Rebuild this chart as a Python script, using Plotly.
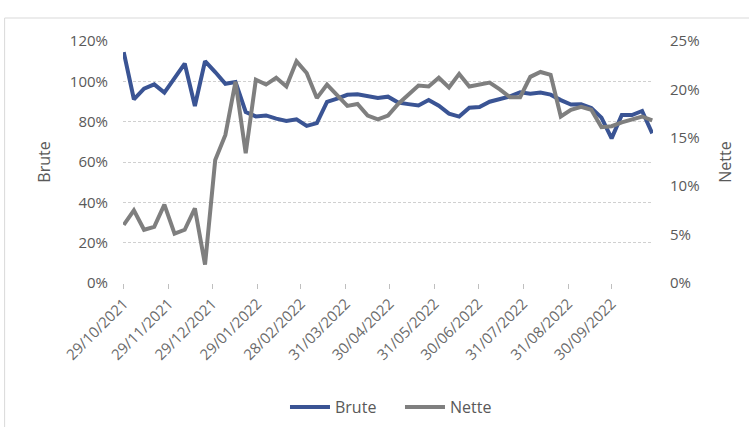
import plotly.graph_objects as go

# Weekly observation dates (Fridays)
dates = [
    "2021-10-29", "2021-11-05", "2021-11-12", "2021-11-19", "2021-11-26",
    "2021-12-03", "2021-12-10", "2021-12-17", "2021-12-24", "2021-12-31",
    "2022-01-07", "2022-01-14", "2022-01-21", "2022-01-28",
    "2022-02-04", "2022-02-11", "2022-02-18", "2022-02-25",
    "2022-03-04", "2022-03-11", "2022-03-18", "2022-03-25",
    "2022-04-01", "2022-04-08", "2022-04-15", "2022-04-22", "2022-04-29",
    "2022-05-06", "2022-05-13", "2022-05-20", "2022-05-27",
    "2022-06-03", "2022-06-10", "2022-06-17", "2022-06-24",
    "2022-07-01", "2022-07-08", "2022-07-15", "2022-07-22", "2022-07-29",
    "2022-08-05", "2022-08-12", "2022-08-19", "2022-08-26",
    "2022-09-02", "2022-09-09", "2022-09-16", "2022-09-23", "2022-09-30",
    "2022-10-07", "2022-10-14", "2022-10-21", "2022-10-28",
]

# Gross ratio (left axis, %)
brute = [
    114.5, 91.1, 96.4, 98.5, 94.4, 101.3, 108.8, 87.8, 110.0, 104.6,
    98.8, 99.7, 84.8, 82.6, 83.1, 81.5, 80.3, 81.2, 77.9, 79.3,
    89.8, 91.4, 93.3, 93.6, 92.6, 91.7, 92.4, 89.5, 88.7, 88.0,
    90.7, 87.9, 84.0, 82.5, 86.9, 87.3, 89.9, 91.4, 92.5, 94.6,
    93.8, 94.4, 93.4, 90.7, 88.5, 88.6, 86.8, 82.0, 71.7, 83.3,
    83.3, 85.3, 74.2,
]

# Net ratio (right axis, %)
nette = [
    6.0, 7.5, 5.5, 5.8, 8.1, 5.1, 5.5, 7.7, 1.9, 12.7,
    15.3, 20.8, 13.4, 21.0, 20.5, 21.2, 20.3, 22.9, 21.7, 19.1,
    20.5, 19.4, 18.3, 18.5, 17.3, 16.9, 17.3, 18.5, 19.5, 20.4,
    20.3, 21.2, 20.2, 21.6, 20.3, 20.5, 20.7, 20.0, 19.2, 19.2,
    21.3, 21.8, 21.5, 17.2, 17.9, 18.2, 17.9, 16.1, 16.2, 16.6,
    16.9, 17.2, 16.8,
]

# Monthly tick positions on the date axis
tick_dates = [
    "2021-10-29", "2021-11-29", "2021-12-29", "2022-01-29", "2022-02-28",
    "2022-03-31", "2022-04-30", "2022-05-31", "2022-06-30", "2022-07-31",
    "2022-08-31", "2022-09-30",
]
tick_labels = ["/".join(reversed(d.split("-"))) for d in tick_dates]

left_ticks = [0, 20, 40, 60, 80, 100, 120]
right_ticks = [0, 5, 10, 15, 20, 25]

FONT = "Open Sans"
TXT = "#595959"
W, H = 749, 427
L, R, T, B = 122.5, 96, 41, 144
pw, ph = W - L - R, H - T - B

fig = go.Figure()
fig.add_trace(go.Scatter(
    x=dates, y=brute, name="Brute", mode="lines",
    line=dict(color="#3A5494", width=4), yaxis="y",
))
fig.add_trace(go.Scatter(
    x=dates, y=nette, name="Nette", mode="lines",
    line=dict(color="#7F7F7F", width=4), yaxis="y2",
))

# light frame around the chart area
fig.add_shape(
    type="rect", xref="paper", yref="paper",
    x0=(4 - L) / pw, x1=1.4, y0=-1.2, y1=(H - B - 18) / ph,
    line=dict(color="#D9D9D9", width=1), fillcolor="rgba(0,0,0,0)",
    layer="below",
)

fig.update_layout(
    width=W, height=H,
    margin=dict(l=L, r=R, t=T, b=B, autoexpand=False),
    paper_bgcolor="white", plot_bgcolor="white",
    font=dict(family=FONT, size=16, color=TXT),
    showlegend=True,
    legend=dict(
        orientation="h", x=0.5 + 12 / pw, xanchor="center", y=(H - B - 407) / ph,
        yanchor="middle", font=dict(size=16, color=TXT),
        bgcolor="rgba(0,0,0,0)", itemwidth=40,
        entrywidth=60, entrywidthmode="pixels",
    ),
    xaxis=dict(
        type="date", range=["2021-10-28 12:00", "2022-10-28 12:00"],
        tickvals=tick_dates, ticktext=tick_labels, tickangle=-45,
        ticks="outside", ticklen=5, tickcolor="#BFBFBF",
        showgrid=False, zeroline=False, showline=False,
        tickfont=dict(size=15, color="#6B6B6B"), automargin=False,
    ),
    yaxis=dict(
        range=[0, 120], tickvals=left_ticks,
        ticktext=[f"{v}%" for v in left_ticks],
        showgrid=True, gridcolor="#D0D0D0", griddash="3px,2px", gridwidth=1,
        zeroline=False, showline=False, ticks="",
        tickfont=dict(size=15, color=TXT), ticklabelstandoff=14,
        title=dict(text="Brute", font=dict(size=16, color=TXT), standoff=15),
        automargin=False,
    ),
    yaxis2=dict(
        range=[0, 25], tickvals=right_ticks,
        ticktext=[f"{v}%" for v in right_ticks],
        overlaying="y", side="right",
        showgrid=False, zeroline=False, showline=False, ticks="",
        tickfont=dict(size=15, color=TXT), ticklabelstandoff=16,
        title=dict(text="Nette", font=dict(size=16, color=TXT), standoff=21),
        automargin=False,
    ),
)

fig.write_html("out.html")
